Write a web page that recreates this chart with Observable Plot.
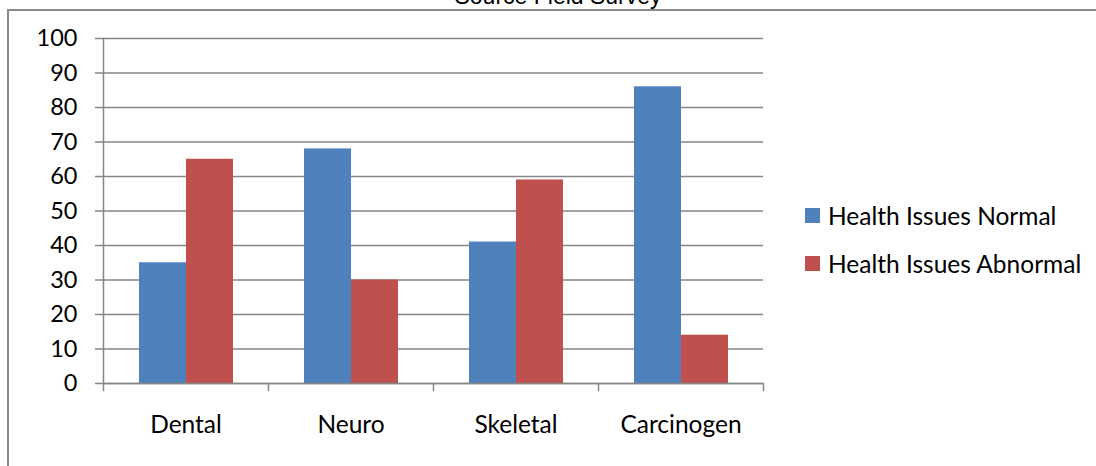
<!DOCTYPE html>
<html>
<head>
<meta charset="utf-8">
<script src="https://cdn.jsdelivr.net/npm/d3@7"></script>
<script src="https://cdn.jsdelivr.net/npm/@observablehq/plot@0.6"></script>
<style>
  html, body { margin: 0; padding: 0; background: #fff; width: 1096px; height: 466px; overflow: hidden; }
  #wrap { position: relative; width: 1096px; height: 466px; overflow: hidden; }
  #border { position: absolute; left: 7px; top: 9px; width: 1200px; height: 600px;
            border-left: 2px solid #8a8a8a; border-top: 2px solid #8a8a8a; box-sizing: border-box; }
  #title { position: absolute; left: 0; width: 1116px; top: -14px; text-align: center;
           font-family: "Liberation Sans", Arial, sans-serif; font-size: 23px; color: #000; line-height: 20px; }
  #chart { position: absolute; left: 0; top: 0; }
  #legend { position: absolute; left: 805px; top: 0; font-family: Lato, sans-serif; font-size: 24.5px; color: #000; }
  .item { position: absolute; left: 0; white-space: nowrap; display: flex; align-items: center; height: 30px; }
  .sw { width: 15px; height: 15px; margin-right: 8px; }
</style>
</head>
<body>
<div id="wrap">
  <div id="border"></div>
  <div id="title"></div>
  <div id="chart"></div>
  <div id="legend"></div>
</div>
<script>
const title = "Source Field Survey";
const categories = ["Dental", "Neuro", "Skeletal", "Carcinogen"];
const seriesNames = ["Health Issues Normal", "Health Issues Abnormal"];
const normalValues = [35, 68, 41, 86];
const abnormalValues = [65, 30, 59, 14];
const yTicks = [0, 10, 20, 30, 40, 50, 60, 70, 80, 90, 100];
const colors = ["#4F81BD", "#C0504D"];

const normalData = categories.map((c, i) => ({category: c, series: seriesNames[0], value: normalValues[i]}));
const abnormalData = categories.map((c, i) => ({category: c, series: seriesNames[1], value: abnormalValues[i]}));

const W = 1096, H = 466;
const mL = 103, mR = 333, mT = 38, mB = 83;
const step = (W - mL - mR) / categories.length;
const gray = "#868686";
const font = "Lato, sans-serif";

const chart = Plot.plot({
  width: W, height: H,
  marginLeft: mL, marginRight: mR, marginTop: mT, marginBottom: mB,
  style: {fontFamily: font, fontSize: "24px", color: "#000", background: "transparent", overflow: "visible"},
  x: {type: "band", domain: categories, padding: 0, label: null},
  y: {domain: [0, 100], label: null},
  color: {domain: seriesNames, range: colors},
  marks: [
    Plot.gridY(yTicks, {stroke: gray, strokeOpacity: 1, strokeWidth: 1.5}),
    Plot.barY(normalData, {x: "category", y: "value", fill: "series", insetLeft: 36, insetRight: 82}),
    Plot.barY(abnormalData, {x: "category", y: "value", fill: "series", insetLeft: 83, insetRight: 35}),
    Plot.frame({anchor: "left", stroke: gray, strokeWidth: 1.5}),
    Plot.ruleY([0], {stroke: gray, strokeWidth: 1.5}),
    Plot.ruleX(categories, {x: d => d, dx: -step / 2, y1: 0, y2: -2.4, stroke: gray, strokeWidth: 1.5}),
    Plot.ruleX(categories.slice(-1), {x: d => d, dx: step / 2, y1: 0, y2: -2.4, stroke: gray, strokeWidth: 1.5}),
    Plot.axisY(yTicks, {tickSize: 8, tickPadding: 18, stroke: gray, strokeWidth: 1.5, strokeOpacity: 1, fill: "#000", label: null, fontSize: 23.5}),
    Plot.axisX({tickSize: 0, tickPadding: 32, fill: "#000", label: null, fontSize: 24.5})
  ]
});
document.getElementById("chart").appendChild(chart);
document.getElementById("title").textContent = title;

const legend = document.getElementById("legend");
const legendTops = [200, 248];
seriesNames.forEach((s, i) => {
  const it = document.createElement("div");
  it.className = "item";
  it.style.top = legendTops[i] + "px";
  const sw = document.createElement("div");
  sw.className = "sw";
  sw.style.background = colors[i];
  const tx = document.createElement("span");
  tx.textContent = s;
  it.appendChild(sw); it.appendChild(tx);
  legend.appendChild(it);
});
</script>
</body>
</html>
